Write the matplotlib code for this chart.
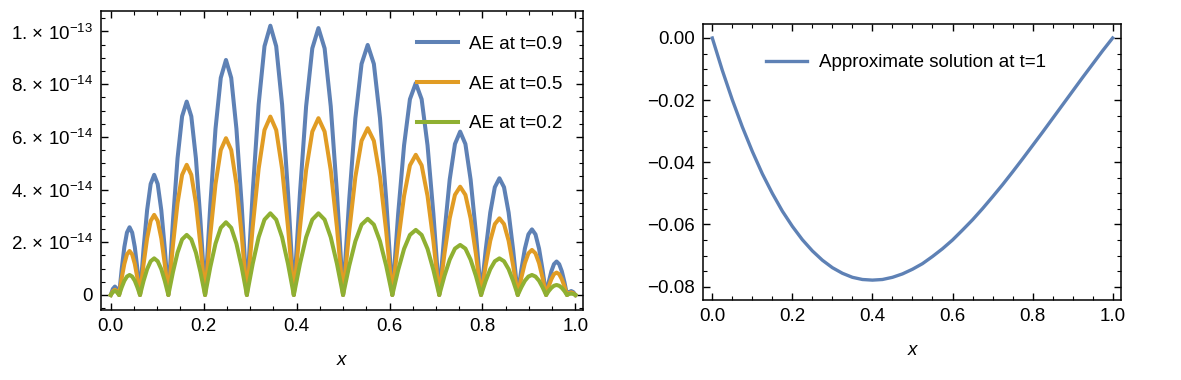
import numpy as np
import matplotlib
matplotlib.use("Agg")
import matplotlib.pyplot as plt
from matplotlib.ticker import MultipleLocator, FixedLocator, FixedFormatter

plt.rcParams['font.family'] = ['Liberation Sans', 'DejaVu Sans']
plt.rcParams['mathtext.fontset'] = 'custom'
plt.rcParams['mathtext.rm'] = 'Liberation Sans'
plt.rcParams['mathtext.it'] = 'Liberation Sans:italic'
plt.rcParams['mathtext.default'] = 'regular'

# absolute error curves (values in units of 1e-14)
x_ae = [0, 0.0045, 0.009, 0.0135,
        0.018, 0.0236, 0.0293, 0.0349, 0.0405, 0.0461, 0.0518, 0.0574,
        0.063, 0.0706, 0.0783, 0.0859, 0.0935, 0.1011, 0.1088, 0.1164,
        0.124, 0.1339, 0.1438, 0.1536, 0.1635, 0.1734, 0.1833, 0.1931,
        0.203, 0.2143, 0.2255, 0.2368, 0.248, 0.2593, 0.2705, 0.2818,
        0.293, 0.3056, 0.3183, 0.3309, 0.3435, 0.3561, 0.3688, 0.3814,
        0.394, 0.4073, 0.4205, 0.4338, 0.447, 0.4603, 0.4735, 0.4868,
        0.5, 0.5133, 0.5265, 0.5398, 0.553, 0.5663, 0.5795, 0.5928,
        0.606, 0.6186, 0.6313, 0.6439, 0.6565, 0.6691, 0.6818, 0.6944,
        0.707, 0.7183, 0.7295, 0.7408, 0.752, 0.7633, 0.7745, 0.7858,
        0.797, 0.8069, 0.8168, 0.8266, 0.8365, 0.8464, 0.8563, 0.8661,
        0.876, 0.8836, 0.8913, 0.8989, 0.9065, 0.9141, 0.9218, 0.9294,
        0.937, 0.9426, 0.9483, 0.9539, 0.9595, 0.9651, 0.9708, 0.9764,
        0.982, 0.9865, 0.991, 0.9955,
        1.0]

ae_t09 = [0, 0.23, 0.32, 0.23,
          0, 0.98, 1.82, 2.37, 2.57, 2.37, 1.82, 0.98,
          0, 1.75, 3.22, 4.21, 4.56, 4.21, 3.22, 1.75,
          0, 2.81, 5.19, 6.78, 7.34, 6.78, 5.19, 2.81,
          0, 3.42, 6.31, 8.24, 8.92, 8.24, 6.31, 3.42,
          0, 3.91, 7.23, 9.44, 10.22, 9.44, 7.23, 3.91,
          0, 3.88, 7.16, 9.36, 10.13, 9.36, 7.16, 3.88,
          0, 3.63, 6.71, 8.77, 9.49, 8.77, 6.71, 3.63,
          0, 3.08, 5.68, 7.43, 8.04, 7.43, 5.68, 3.08,
          0, 2.37, 4.38, 5.73, 6.20, 5.73, 4.38, 2.37,
          0, 1.70, 3.13, 4.09, 4.43, 4.09, 3.13, 1.70,
          0, 0.95, 1.76, 2.30, 2.49, 2.30, 1.76, 0.95,
          0, 0.49, 0.90, 1.17, 1.27, 1.17, 0.90, 0.49,
          0, 0.11, 0.15, 0.11,
          0]

ae_t05 = [0, 0.14, 0.20, 0.14,
          0, 0.64, 1.18, 1.54, 1.67, 1.54, 1.18, 0.64,
          0, 1.16, 2.15, 2.81, 3.04, 2.81, 2.15, 1.16,
          0, 1.89, 3.49, 4.56, 4.94, 4.56, 3.49, 1.89,
          0, 2.28, 4.21, 5.50, 5.95, 5.50, 4.21, 2.28,
          0, 2.59, 4.79, 6.26, 6.77, 6.26, 4.79, 2.59,
          0, 2.57, 4.74, 6.20, 6.71, 6.20, 4.74, 2.57,
          0, 2.42, 4.48, 5.85, 6.33, 5.85, 4.48, 2.42,
          0, 2.04, 3.76, 4.92, 5.32, 4.92, 3.76, 2.04,
          0, 1.57, 2.91, 3.80, 4.11, 3.80, 2.91, 1.57,
          0, 1.11, 2.06, 2.69, 2.91, 2.69, 2.06, 1.11,
          0, 0.65, 1.21, 1.58, 1.71, 1.58, 1.21, 0.65,
          0, 0.33, 0.60, 0.79, 0.85, 0.79, 0.60, 0.33,
          0, 0.07, 0.10, 0.07,
          0]

ae_t02 = [0, 0.11, 0.15, 0.11,
          0, 0.29, 0.54, 0.70, 0.76, 0.70, 0.54, 0.29,
          0, 0.53, 0.98, 1.28, 1.39, 1.28, 0.98, 0.53,
          0, 0.87, 1.61, 2.11, 2.28, 2.11, 1.61, 0.87,
          0, 1.06, 1.95, 2.55, 2.76, 2.55, 1.95, 1.06,
          0, 1.19, 2.19, 2.86, 3.10, 2.86, 2.19, 1.19,
          0, 1.19, 2.19, 2.86, 3.10, 2.86, 2.19, 1.19,
          0, 1.11, 2.04, 2.67, 2.89, 2.67, 2.04, 1.11,
          0, 0.95, 1.75, 2.28, 2.47, 2.28, 1.75, 0.95,
          0, 0.73, 1.34, 1.76, 1.90, 1.76, 1.34, 0.73,
          0, 0.53, 0.98, 1.28, 1.39, 1.28, 0.98, 0.53,
          0, 0.29, 0.54, 0.70, 0.76, 0.70, 0.54, 0.29,
          0, 0.15, 0.27, 0.35, 0.38, 0.35, 0.27, 0.15,
          0, 0.04, 0.05, 0.04,
          0]

ae_labels = ['AE at t=0.9', 'AE at t=0.5', 'AE at t=0.2']
ae_yticks = [0, 2e-14, 4e-14, 6e-14, 8e-14, 1e-13]
ae_yticklabels = ['0', '2. × 10$^{-14}$', '4. × 10$^{-14}$', '6. × 10$^{-14}$',
                  '8. × 10$^{-14}$', '1. × 10$^{-13}$']

# approximate solution at t=1
x_sol = [0.000, 0.025, 0.050, 0.075, 0.100, 0.125, 0.150, 0.175, 0.200,
         0.225, 0.250, 0.275, 0.300, 0.325, 0.350, 0.375, 0.400, 0.425,
         0.450, 0.475, 0.500, 0.525, 0.550, 0.575, 0.600, 0.625, 0.650,
         0.675, 0.700, 0.725, 0.750, 0.775, 0.800, 0.825, 0.850, 0.875,
         0.900, 0.925, 0.950, 0.975, 1.000]
u_sol = [0.0, -0.0104, -0.0199, -0.0286, -0.0365, -0.0437, -0.0500, -0.0557,
         -0.0606, -0.0649, -0.0685, -0.0715, -0.0739, -0.0757, -0.0770,
         -0.0777, -0.0779, -0.0777, -0.0770, -0.0759, -0.0744, -0.0726,
         -0.0703, -0.0678, -0.0650, -0.0618, -0.0585, -0.0549, -0.0511,
         -0.0472, -0.0431, -0.0389, -0.0346, -0.0303, -0.0259, -0.0215,
         -0.0171, -0.0127, -0.0084, -0.0041, 0.0]
sol_label = 'Approximate solution at t=1'

colors = ['#5E81B5', '#E19C24', '#8FB032']
fs = 13.5

fig = plt.figure(figsize=(11.81, 3.80), dpi=100)
ax1 = fig.add_axes([0.0855, 0.1842, 0.408, 0.787])
ax2 = fig.add_axes([0.5955, 0.2105, 0.3534, 0.7255])

for ys, c, lab in zip([ae_t09, ae_t05, ae_t02], colors, ae_labels):
    ax1.plot(x_ae, np.array(ys) * 1e-14, color=c, lw=2.9, label=lab,
             solid_joinstyle='round')
ax1.set_xlim(-0.021, 1.016)
ax1.set_ylim(-5.7e-15, 1.078e-13)
ax1.yaxis.set_major_locator(FixedLocator(ae_yticks))
ax1.yaxis.set_major_formatter(FixedFormatter(ae_yticklabels))
ax1.yaxis.set_minor_locator(MultipleLocator(0.5e-14))
ax1.legend(loc='upper left', bbox_to_anchor=(0.636, 0.948), frameon=False,
           borderpad=0, handlelength=2.2, handletextpad=0.6,
           labelspacing=1.2, fontsize=fs)

ax2.plot(x_sol, u_sol, color=colors[0], lw=2.4, label=sol_label,
         solid_joinstyle='round')
ax2.set_xlim(-0.0225, 1.02)
ax2.set_ylim(-0.0843, 0.0044)
ax2.yaxis.set_major_locator(MultipleLocator(0.02))
ax2.yaxis.set_minor_locator(MultipleLocator(0.005))
ax2.yaxis.set_major_formatter(matplotlib.ticker.FuncFormatter(
    lambda v, p: '{:.2f}'.format(v).replace('-', '\u2212')))
ax2.legend(loc='upper left', bbox_to_anchor=(0.128, 0.925), frameon=False,
           borderpad=0, handlelength=2.2, handletextpad=0.6, fontsize=fs)

for ax in (ax1, ax2):
    ax.xaxis.set_major_locator(MultipleLocator(0.2))
    ax.xaxis.set_minor_locator(MultipleLocator(0.05))
    ax.xaxis.set_major_formatter(matplotlib.ticker.FormatStrFormatter('%.1f'))
    ax.tick_params(which='both', direction='in', top=True, right=True,
                   labelsize=fs, pad=6)
    ax.tick_params(which='major', length=5, width=1)
    ax.tick_params(which='minor', length=3, width=0.8)
    for s in ax.spines.values():
        s.set_linewidth(1.1)
    ax.set_xlabel('x', fontsize=fs, style='italic', labelpad=12)

plt.savefig('out.png', dpi=100)
